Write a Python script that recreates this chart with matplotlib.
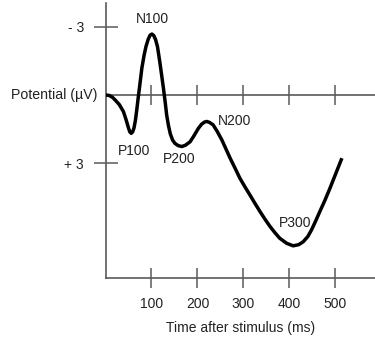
import matplotlib
matplotlib.use("Agg")
import matplotlib.pyplot as plt

plt.rcParams['font.family'] = ['Liberation Sans', 'DejaVu Sans']

# ERP waveform (time in ms, potential in µV; negative plotted upward)
time_ms = [0, 8, 15, 21, 30, 39, 45, 50, 53, 56, 59, 62, 65, 68, 71, 75, 79, 84,
           88, 93, 97, 101, 105, 109, 113, 118, 122, 126, 130, 133, 137, 141, 146,
           151, 158, 166, 174, 184, 192, 202, 209, 215, 220, 226, 234, 243, 253,
           262, 271, 282, 292, 303, 314, 325, 336, 347, 358, 369, 379, 394, 408,
           420, 430, 440, 448, 457, 466, 477, 488, 500, 514]
potential_uv = [0.0, 0.02, 0.1, 0.22, 0.42, 0.73, 1.1, 1.45, 1.62, 1.68, 1.62, 1.44,
                1.12, 0.65, 0.14, -0.5, -1.17, -1.75, -2.12, -2.45, -2.62, -2.67,
                -2.6, -2.42, -2.12, -1.46, -0.88, -0.29, 0.35, 0.88, 1.35, 1.71,
                1.98, 2.12, 2.22, 2.26, 2.2, 2.05, 1.8, 1.46, 1.28, 1.19, 1.16, 1.2,
                1.31, 1.6, 1.97, 2.37, 2.77, 3.22, 3.64, 4.02, 4.38, 4.75, 5.11,
                5.45, 5.77, 6.05, 6.28, 6.5, 6.61, 6.56, 6.43, 6.2, 5.91, 5.52,
                5.11, 4.62, 4.09, 3.48, 2.77]

x_ticks = [100, 200, 300, 400, 500]
x_tick_labels = ['100', '200', '300', '400', '500']
y_ticks = [-3, 3]
y_tick_labels = ['- 3', '+ 3']

component_names = ['N100', 'P100', 'P200', 'N200', 'P300']
component_label_t = [101, 62, 160, 280, 413]
component_label_v = [-3.33, 2.45, 2.80, 1.14, 5.61]

axis_color = '#5a5a5a'
text_color = '#222222'

fig = plt.figure(figsize=(3.75, 3.37), dpi=100)
ax = fig.add_axes([105.5 / 375, 59 / 337, 1 - 105.5 / 375, 275 / 337])

ax.plot(time_ms, potential_uv, color='black', lw=2.5, solid_joinstyle='round',
        solid_capstyle='butt', zorder=3)

ax.set_xlim(0, 586)
ax.set_ylim(8.02, -4.03)

for s in ['top', 'right']:
    ax.spines[s].set_visible(False)
for s in ['left', 'bottom']:
    ax.spines[s].set_color(axis_color)
    ax.spines[s].set_linewidth(1.2)

ax.axhline(0, color=axis_color, lw=1.2, zorder=1)
ax.vlines(x_ticks, -0.44, 0.44, color=axis_color, lw=1.1, zorder=1)

ax.set_xticks(x_ticks)
ax.set_xticklabels(x_tick_labels)
ax.tick_params(axis='x', direction='inout', length=14.4, width=1.1, color=axis_color,
               labelsize=10, labelcolor=text_color, pad=6.5)
ax.set_yticks(y_ticks)
ax.set_yticklabels(y_tick_labels)
ax.tick_params(axis='y', direction='inout', length=17.3, width=1.1, color=axis_color,
               labelsize=10, labelcolor=text_color, pad=7)

ax.set_xlabel('Time after stimulus (ms)', fontsize=10, color=text_color, labelpad=7)

ax.annotate('Potential (µV)', xy=(0, 0), xycoords='data', xytext=(-8, 0),
            textcoords='offset pixels', ha='right', va='center', fontsize=10.2,
            color=text_color)

for name, t, v in zip(component_names, component_label_t, component_label_v):
    ax.text(t, v, name, ha='center', va='center', fontsize=10, color=text_color,
            zorder=4)

fig.savefig('out.png', dpi=100)
